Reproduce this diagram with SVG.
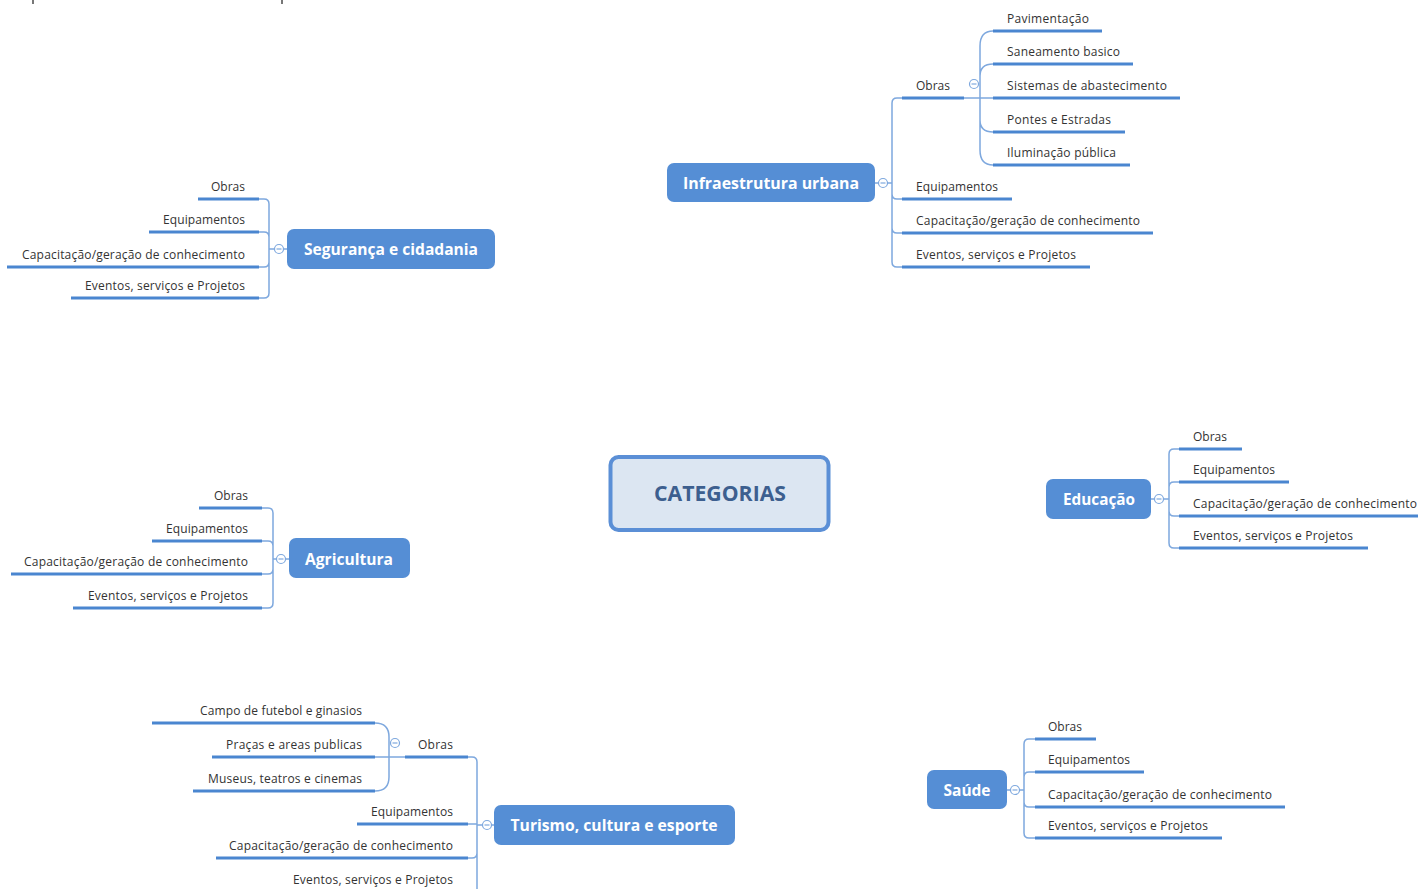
<svg xmlns="http://www.w3.org/2000/svg" width="1418" height="889" viewBox="0 0 1418 889">
<style>
.bg{fill:#ffffff}
.box{fill:#558ed5}
.bt{font-family:"Open Sans","Liberation Sans",sans-serif;font-weight:bold;font-size:16px;fill:#ffffff;text-anchor:middle}
.t{font-family:"Open Sans","Liberation Sans",sans-serif;font-size:12px;fill:#333333}
.r{text-anchor:end}
.ul{stroke:#4a86d0;stroke-width:3;fill:none;stroke-linecap:butt}
.cn{stroke:#7ea8de;stroke-width:1.5;fill:none}
.cc{fill:#ffffff;stroke:#7ea8de;stroke-width:1.2}
.cm{stroke:#7ea8de;stroke-width:1.2}
</style>
<rect class="bg" x="0" y="0" width="1418" height="889"/>
<rect x="32" y="0" width="2" height="4" fill="#777"/>
<rect x="281" y="0" width="2" height="4" fill="#777"/>

<g id="connectors">
  <!-- Infraestrutura -->
  <path class="cn" d="M875 183 H878.5 M887.5 183 H892"/>
  <path class="cn" d="M892 183 V103 Q892 98 897 98 H902 M892 183 V194 Q892 199 897 199 H902 M892 183 V228 Q892 233 897 233 H902 M892 183 V262 Q892 267 897 267 H902"/>
  <path class="cn" d="M964 98 H993 M980 98 V46 Q980 31 993 31 M980 98 V76 Q980 64 993 64 M980 98 V120 Q980 132 993 132 M980 98 V150 Q980 165 993 165"/>
  <!-- Segurança -->
  <path class="cn" d="M287 249 H283.5 M274.5 249 H269"/>
  <path class="cn" d="M269 249 V204 Q269 199 264 199 H259 M269 249 V237 Q269 232 264 232 H259 M269 249 V262 Q269 267 264 267 H259 M269 249 V293 Q269 298 264 298 H259"/>
  <!-- Agricultura -->
  <path class="cn" d="M289 559 H285.5 M276.5 559 H273"/>
  <path class="cn" d="M273 559 V513 Q273 508 268 508 H262 M273 559 V546 Q273 541 268 541 H262 M273 559 V569 Q273 574 268 574 H262 M273 559 V603 Q273 608 268 608 H262"/>
  <!-- Educação -->
  <path class="cn" d="M1151 499 H1154.5 M1163.5 499 H1169"/>
  <path class="cn" d="M1169 499 V454 Q1169 449 1174 449 H1179 M1169 499 V487 Q1169 482 1174 482 H1179 M1169 499 V511 Q1169 516 1174 516 H1179 M1169 499 V543 Q1169 548 1174 548 H1179"/>
  <!-- Saúde -->
  <path class="cn" d="M1007 790 H1010.5 M1019.5 790 H1024"/>
  <path class="cn" d="M1024 790 V744 Q1024 739 1029 739 H1035 M1024 790 V777 Q1024 772 1029 772 H1035 M1024 790 V802 Q1024 807 1029 807 H1035 M1024 790 V833 Q1024 838 1029 838 H1035"/>
  <!-- Turismo -->
  <path class="cn" d="M494 825 H491.5 M482.5 825 H477"/>
  <path class="cn" d="M477 825 V762 Q477 757 472 757 H468 M477 825 V824 H468 M477 825 V853 Q477 858 472 858 H468 M477 825 V895"/>
  <path class="cn" d="M405 757 H375 M389 757 V737 Q389 723 375 723 M389 757 V777 Q389 791 375 791"/>
</g>

<g id="categorias">
  <rect x="610.5" y="457" width="218" height="73" rx="8" fill="#dce6f2" stroke="#5b8fd6" stroke-width="4"/>
  <text x="720" y="501" font-family="Open Sans, Liberation Sans, sans-serif" font-weight="bold" font-size="22" fill="#3d5f8f" text-anchor="middle" textLength="132" lengthAdjust="spacingAndGlyphs">CATEGORIAS</text>
</g>

<g id="infraestrutura">
  <rect class="box" x="667" y="163" width="208" height="39" rx="7"/>
  <text class="bt" x="771" y="189" textLength="176" lengthAdjust="spacingAndGlyphs">Infraestrutura urbana</text>
  <circle class="cc" cx="883" cy="183" r="4.5"/><path class="cm" d="M880.5 183 H885.5"/>
</g>
<g id="infra-obras">
  <path class="ul" d="M902 98 H964"/>
  <text class="t" x="916" y="89.5" textLength="34">Obras</text>
  <circle class="cc" cx="974" cy="84" r="4.5"/><path class="cm" d="M971.5 84 H976.5"/>
</g>
<g id="infra-pavimentacao"><path class="ul" d="M993 31 H1102"/><text class="t" x="1007" y="22.5" textLength="82">Pavimentação</text></g>
<g id="infra-saneamento"><path class="ul" d="M993 64 H1133"/><text class="t" x="1007" y="55.5" textLength="113">Saneamento basico</text></g>
<g id="infra-sistemas"><path class="ul" d="M993 98 H1180"/><text class="t" x="1007" y="89.5" textLength="160">Sistemas de abastecimento</text></g>
<g id="infra-pontes"><path class="ul" d="M993 132 H1125"/><text class="t" x="1007" y="123.5" textLength="104">Pontes e Estradas</text></g>
<g id="infra-iluminacao"><path class="ul" d="M993 165 H1130"/><text class="t" x="1007" y="156.5" textLength="109">Iluminação pública</text></g>
<g id="infra-equip"><path class="ul" d="M902 199 H1012"/><text class="t" x="916" y="190.5" textLength="82">Equipamentos</text></g>
<g id="infra-capac"><path class="ul" d="M902 233 H1153"/><text class="t" x="916" y="224.5" textLength="224">Capacitação/geração de conhecimento</text></g>
<g id="infra-eventos"><path class="ul" d="M902 267 H1090"/><text class="t" x="916" y="258.5" textLength="160">Eventos, serviços e Projetos</text></g>

<g id="seguranca">
  <rect class="box" x="287" y="229" width="208" height="40" rx="7"/>
  <text class="bt" x="391" y="255" textLength="174" lengthAdjust="spacingAndGlyphs">Segurança e cidadania</text>
  <circle class="cc" cx="279" cy="249" r="4.5"/><path class="cm" d="M276.5 249 H281.5"/>
</g>
<g id="seg-obras"><path class="ul" d="M198 199 H259"/><text class="t r" x="245" y="190.5" textLength="34">Obras</text></g>
<g id="seg-equip"><path class="ul" d="M149 232 H259"/><text class="t r" x="245" y="223.5" textLength="82">Equipamentos</text></g>
<g id="seg-capac"><path class="ul" d="M7 267 H259"/><text class="t r" x="245" y="258.5" textLength="223">Capacitação/geração de conhecimento</text></g>
<g id="seg-eventos"><path class="ul" d="M71 298 H259"/><text class="t r" x="245" y="289.5" textLength="160">Eventos, serviços e Projetos</text></g>

<g id="agricultura">
  <rect class="box" x="289" y="538" width="121" height="40" rx="7"/>
  <text class="bt" x="349" y="564.5" textLength="88" lengthAdjust="spacingAndGlyphs">Agricultura</text>
  <circle class="cc" cx="281" cy="559" r="4.5"/><path class="cm" d="M278.5 559 H283.5"/>
</g>
<g id="agr-obras"><path class="ul" d="M199 508 H262"/><text class="t r" x="248" y="499.5" textLength="34">Obras</text></g>
<g id="agr-equip"><path class="ul" d="M152 541 H262"/><text class="t r" x="248" y="532.5" textLength="82">Equipamentos</text></g>
<g id="agr-capac"><path class="ul" d="M11 574 H262"/><text class="t r" x="248" y="565.5" textLength="224">Capacitação/geração de conhecimento</text></g>
<g id="agr-eventos"><path class="ul" d="M73 608 H262"/><text class="t r" x="248" y="599.5" textLength="160">Eventos, serviços e Projetos</text></g>

<g id="educacao">
  <rect class="box" x="1046" y="479" width="105" height="40" rx="7"/>
  <text class="bt" x="1099" y="505" textLength="72" lengthAdjust="spacingAndGlyphs">Educação</text>
  <circle class="cc" cx="1159" cy="499" r="4.5"/><path class="cm" d="M1156.5 499 H1161.5"/>
</g>
<g id="edu-obras"><path class="ul" d="M1179 449 H1242"/><text class="t" x="1193" y="440.5" textLength="34">Obras</text></g>
<g id="edu-equip"><path class="ul" d="M1179 482 H1289"/><text class="t" x="1193" y="473.5" textLength="82">Equipamentos</text></g>
<g id="edu-capac"><path class="ul" d="M1179 516 H1418"/><text class="t" x="1193" y="507.5" textLength="224">Capacitação/geração de conhecimento</text></g>
<g id="edu-eventos"><path class="ul" d="M1179 548 H1368"/><text class="t" x="1193" y="539.5" textLength="160">Eventos, serviços e Projetos</text></g>

<g id="saude">
  <rect class="box" x="927" y="770" width="80" height="39" rx="7"/>
  <text class="bt" x="967" y="796" textLength="47" lengthAdjust="spacingAndGlyphs">Saúde</text>
  <circle class="cc" cx="1015" cy="790" r="4.5"/><path class="cm" d="M1012.5 790 H1017.5"/>
</g>
<g id="sau-obras"><path class="ul" d="M1035 739 H1096"/><text class="t" x="1048" y="730.5" textLength="34">Obras</text></g>
<g id="sau-equip"><path class="ul" d="M1035 772 H1144"/><text class="t" x="1048" y="763.5" textLength="82">Equipamentos</text></g>
<g id="sau-capac"><path class="ul" d="M1035 807 H1285"/><text class="t" x="1048" y="798.5" textLength="224">Capacitação/geração de conhecimento</text></g>
<g id="sau-eventos"><path class="ul" d="M1035 838 H1222"/><text class="t" x="1048" y="829.5" textLength="160">Eventos, serviços e Projetos</text></g>

<g id="turismo">
  <rect class="box" x="494" y="805" width="241" height="40" rx="7"/>
  <text class="bt" x="614" y="831" textLength="207" lengthAdjust="spacingAndGlyphs">Turismo, cultura e esporte</text>
  <circle class="cc" cx="487" cy="825" r="4.5"/><path class="cm" d="M484.5 825 H489.5"/>
</g>
<g id="tur-obras">
  <path class="ul" d="M405 757 H468"/>
  <text class="t r" x="453" y="748.5" textLength="35">Obras</text>
  <circle class="cc" cx="395" cy="743" r="4.5"/><path class="cm" d="M392.5 743 H397.5"/>
</g>
<g id="tur-campo"><path class="ul" d="M152 723 H375"/><text class="t r" x="362" y="714.5" textLength="162">Campo de futebol e ginasios</text></g>
<g id="tur-pracas"><path class="ul" d="M212 757 H375"/><text class="t r" x="362" y="748.5" textLength="136">Praças e areas publicas</text></g>
<g id="tur-museus"><path class="ul" d="M193 791 H375"/><text class="t r" x="362" y="782.5" textLength="154">Museus, teatros e cinemas</text></g>
<g id="tur-equip"><path class="ul" d="M357 824 H468"/><text class="t r" x="453" y="815.5" textLength="82">Equipamentos</text></g>
<g id="tur-capac"><path class="ul" d="M216 858 H468"/><text class="t r" x="453" y="849.5" textLength="224">Capacitação/geração de conhecimento</text></g>
<g id="tur-eventos"><path class="ul" d="M281 892 H468"/><text class="t r" x="453" y="883.5" textLength="160">Eventos, serviços e Projetos</text></g>
</svg>
